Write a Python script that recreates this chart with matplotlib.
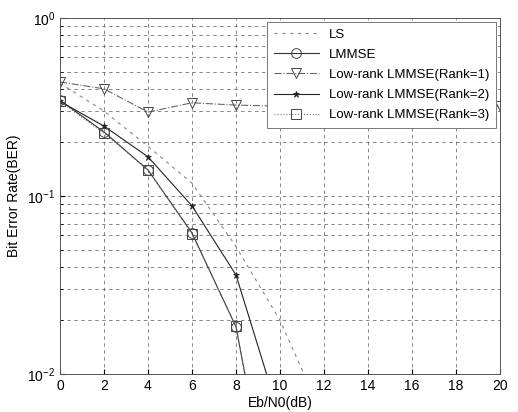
import numpy as np
import matplotlib
matplotlib.use('Agg')
import matplotlib.pyplot as plt

plt.rcParams['font.family'] = ['Liberation Sans', 'DejaVu Sans']

# Eb/N0 points (dB)
snr = [0, 2, 4, 6, 8, 10, 12, 14, 16, 18, 20]

# BER (values below 1e-2 only set the slope to the axis edge)
ber_ls = [0.43, 0.30, 0.19, 0.118, 0.052, 0.02, 0.0056]
ber_lmmse = [0.345, 0.229, 0.14, 0.062, 0.0184, 0.0009]
ber_rank1 = [0.437, 0.40, 0.296, 0.334, 0.324, 0.32, 0.32, 0.32, 0.32, 0.32, 0.32]
ber_rank2 = [0.34, 0.247, 0.166, 0.088, 0.036, 0.0057]
ber_rank3 = [0.34, 0.225, 0.14, 0.061, 0.0185, 0.0009]

labels = ['LS', 'LMMSE', 'Low-rank LMMSE(Rank=1)',
          'Low-rank LMMSE(Rank=2)', 'Low-rank LMMSE(Rank=3)']

fig = plt.figure(figsize=(5.18, 4.12), dpi=100)
ax = fig.add_axes([60/518, 1-374/412, 440/518, 356/412])

ax.semilogy(snr[:len(ber_ls)], ber_ls, color='#888888', lw=0.8,
            ls=(0, (3, 4)), label=labels[0])
ax.semilogy(snr[:len(ber_lmmse)], ber_lmmse, color='#333333', lw=0.8,
            marker='o', ms=7, mfc='none', mec='#444444', mew=0.7, label=labels[1])
ax.semilogy(snr, ber_rank1, color='#666666', lw=0.8, ls='-.',
            marker='v', ms=7, mfc='none', mec='#444444', mew=0.7, label=labels[2])
ax.semilogy(snr[:len(ber_rank2)], ber_rank2, color='#222222', lw=0.8,
            marker='*', ms=5, mfc='#222222', mec='#222222', mew=0.5, label=labels[3])
ax.semilogy(snr[:len(ber_rank3)], ber_rank3, color='#777777', lw=0.8, ls=':',
            marker='s', ms=7, mfc='none', mec='#444444', mew=0.7, label=labels[4])

ax.set_xlim(0, 20)
ax.set_ylim(1e-2, 1)
ax.set_xticks(range(0, 21, 2))
ax.grid(True, which='major', color='#555555', ls=(0, (5, 5)), lw=0.5)
ax.grid(True, which='minor', axis='y', color='#555555', ls=(0, (5, 5)), lw=0.5)
ax.tick_params(which='both', direction='in', labelsize=10)
ax.tick_params(which='minor', length=2)
for s in ax.spines.values():
    s.set_linewidth(0.7)
    s.set_color('#555555')

ax.set_xlabel('Eb/N0(dB)', fontsize=10, labelpad=2)
ax.set_ylabel('Bit Error Rate(BER)', fontsize=10)

leg = ax.legend(loc='upper right', fontsize=9.5, fancybox=False, framealpha=1,
                edgecolor='#777777', borderaxespad=0.3, handlelength=3.4,
                labelspacing=0.6, borderpad=0.5)
leg.get_frame().set_linewidth(0.7)

fig.savefig('out.png', dpi=100)
